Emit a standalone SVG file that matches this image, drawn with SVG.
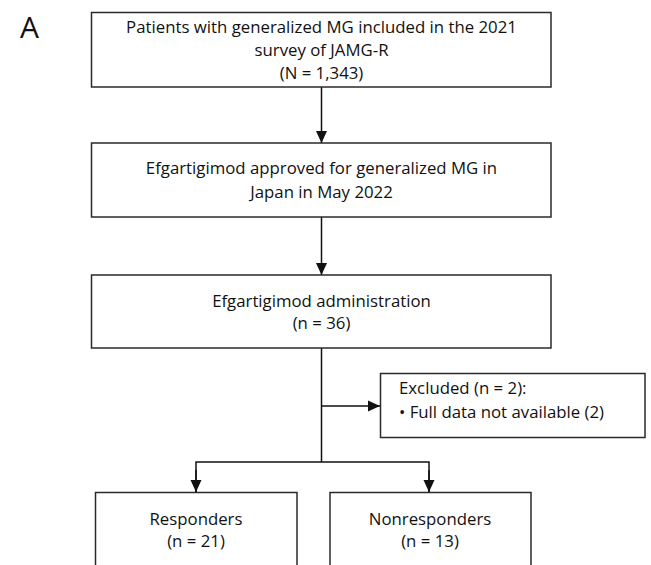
<svg xmlns="http://www.w3.org/2000/svg" width="651" height="565" viewBox="0 0 651 565">
<style>
.box{fill:#fff;stroke:#2a2a2a;stroke-width:1.5}
.t{font-family:"Open Sans","Noto Sans",sans-serif;font-size:16.8px;fill:#111;text-anchor:middle}
.tl{font-family:"Open Sans","Noto Sans",sans-serif;font-size:16.8px;fill:#111}
.c{fill:none;stroke:#111;stroke-width:1.5}
</style>
<defs>
<marker id="ah" viewBox="0 0 12 12" refX="12" refY="6" markerWidth="12" markerHeight="12" markerUnits="userSpaceOnUse" orient="auto">
<path d="M0,0.5 L12,6 L0,11.5 Z" fill="#111"/>
</marker>
</defs>
<rect width="651" height="565" fill="#fff"/>
<text x="20" y="38" font-family="'Open Sans','Noto Sans',sans-serif" font-size="30" fill="#111">A</text>
<g id="connectors">
<line class="c" x1="321.5" y1="87" x2="321.5" y2="143" marker-end="url(#ah)"/>
<line class="c" x1="321.5" y1="217" x2="321.5" y2="275" marker-end="url(#ah)"/>
<line class="c" x1="321.5" y1="348" x2="321.5" y2="462"/>
<line class="c" x1="321.5" y1="406" x2="380" y2="406" marker-end="url(#ah)"/>
<path class="c" d="M196,492 V462 H429 V492"/>
<line class="c" x1="196" y1="470" x2="196" y2="492" marker-end="url(#ah)"/>
<line class="c" x1="429" y1="470" x2="429" y2="492" marker-end="url(#ah)"/>
</g>
<g id="n1">
<rect class="box" x="91.5" y="12.5" width="459.5" height="74.5"/>
<text class="t" x="321.5" y="33">Patients with generalized MG included in the 2021</text>
<text class="t" x="321.5" y="56">survey of JAMG-R</text>
<text class="t" x="321.5" y="79">(N = 1,343)</text>
</g>
<g id="n2">
<rect class="box" x="91.5" y="143" width="459.5" height="74"/>
<text class="t" x="321.5" y="174">Efgartigimod approved for generalized MG in</text>
<text class="t" x="321.5" y="197.5">Japan in May 2022</text>
</g>
<g id="n3">
<rect class="box" x="91.5" y="275" width="459.5" height="73"/>
<text class="t" x="321.5" y="307">Efgartigimod administration</text>
<text class="t" x="321.5" y="329">(n = 36)</text>
</g>
<g id="n4">
<rect class="box" x="380.5" y="373.5" width="264.5" height="64"/>
<text class="tl" x="399" y="394">Excluded (n = 2):</text>
<text class="tl" x="399" y="418">• Full data not available (2)</text>
</g>
<g id="n5">
<rect class="box" x="95.5" y="492.5" width="201.5" height="90"/>
<text class="t" x="196" y="525">Responders</text>
<text class="t" x="196" y="547">(n = 21)</text>
</g>
<g id="n6">
<rect class="box" x="330" y="492.5" width="201" height="90"/>
<text class="t" x="430" y="525">Nonresponders</text>
<text class="t" x="430" y="547">(n = 13)</text>
</g>
</svg>
